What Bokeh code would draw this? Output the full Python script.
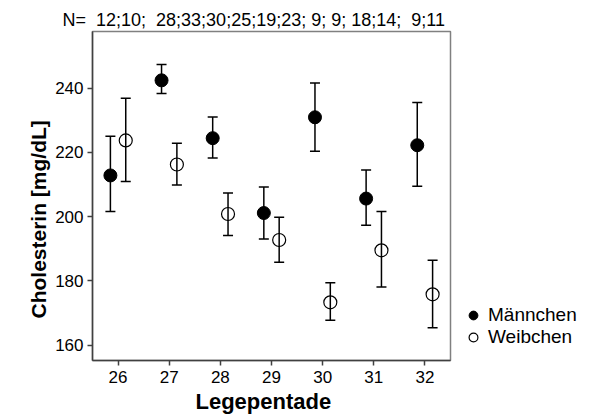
from bokeh.plotting import figure
from bokeh.models import ColumnDataSource, Whisker, TeeHead, Legend, LegendItem, FixedTicker, Title
from bokeh.embed import file_html
from bokeh.resources import INLINE

pentades = [26, 27, 28, 29, 30, 31, 32]
male_mean = [212.8, 242.4, 224.4, 201.1, 230.9, 205.6, 222.2]
male_upper = [225.0, 247.3, 231.0, 209.2, 241.6, 214.5, 235.5]
male_lower = [201.6, 238.3, 218.2, 193.0, 220.3, 197.3, 209.4]
female_mean = [223.7, 216.2, 200.8, 192.7, 173.3, 189.5, 175.8]
female_upper = [236.8, 222.8, 207.3, 199.8, 179.4, 201.6, 186.4]
female_lower = [210.9, 209.8, 194.1, 185.8, 167.7, 178.1, 165.4]
n_text = "N=\u00a0 12;10;\u00a0 28;33;30;25;19;23; 9; 9; 18;14;\u00a0 9;11"
y_ticks = [160, 180, 200, 220, 240]
offset = 0.15

FONT = "Liberation Sans"

src_m = ColumnDataSource(dict(x=[v - offset for v in pentades], y=male_mean,
                              up=male_upper, lo=male_lower))
src_f = ColumnDataSource(dict(x=[v + offset for v in pentades], y=female_mean,
                              up=female_upper, lo=female_lower))

p = figure(frame_width=358, frame_height=329, x_range=(25.5, 32.5), y_range=(155.2, 257.6),
           output_backend="svg", toolbar_location=None,
           min_border_left=92, min_border_right=141, min_border_top=31, min_border_bottom=58)

p.background_fill_color = "white"
p.border_fill_color = "white"
p.grid.visible = False
p.outline_line_color = "#808080"
p.outline_line_width = 1.5

for src in (src_m, src_f):
    w = Whisker(source=src, base="x", upper="up", lower="lo", dimension="height",
                line_color="black", line_width=1.5,
                upper_head=TeeHead(size=10, line_color="black", line_width=1.5),
                lower_head=TeeHead(size=10, line_color="black", line_width=1.5))
    p.add_layout(w)

rm = p.scatter("x", "y", source=src_m, size=13, marker="circle",
               fill_color="black", line_color="black")
rf = p.scatter("x", "y", source=src_f, size=13, marker="circle",
               fill_color=None, line_color="black", line_width=1.2)

p.xaxis.ticker = FixedTicker(ticks=pentades)
p.yaxis.ticker = FixedTicker(ticks=y_ticks)
for ax in (p.xaxis, p.yaxis):
    ax.axis_line_color = "#404040"
    ax.axis_line_width = 1.5
    ax.major_tick_line_color = "#404040"
    ax.major_tick_line_width = 1.5
    ax.major_tick_out = 5
    ax.major_tick_in = 0
    ax.minor_tick_line_color = None
    ax.major_label_text_font = FONT
    ax.major_label_text_font_size = "17px"
    ax.major_label_text_color = "black"
p.xaxis.major_label_standoff = 5
p.yaxis.major_label_standoff = 4

ylab = Title(text="Cholesterin [mg/dL]", align="left", offset=42,
             text_font=FONT, text_font_size="21px", text_font_style="bold",
             text_color="black", standoff=6)
p.add_layout(ylab, "left")
xlab = Title(text="Legepentade", align="left", offset=103,
             text_font=FONT, text_font_size="22px", text_font_style="bold",
             text_color="black", standoff=2)
p.add_layout(xlab, "below")

p.title.text = n_text
p.title.text_font = FONT
p.title.text_font_size = "18px"
p.title.text_font_style = "normal"
p.title.text_color = "black"
p.title.align = "left"
p.title.offset = -30
p.title.standoff = 4

legend = Legend(items=[LegendItem(label="Männchen", renderers=[rm]),
                       LegendItem(label="Weibchen", renderers=[rf])],
                location="bottom_left", margin=12, padding=0, spacing=0,
                glyph_width=22, glyph_height=22, label_height=22, label_standoff=4,
                label_text_font=FONT, label_text_font_size="19px",
                label_text_color="black",
                border_line_color=None, background_fill_alpha=0)
p.add_layout(legend, "right")

open("out.html", "w").write(file_html(p, INLINE))
